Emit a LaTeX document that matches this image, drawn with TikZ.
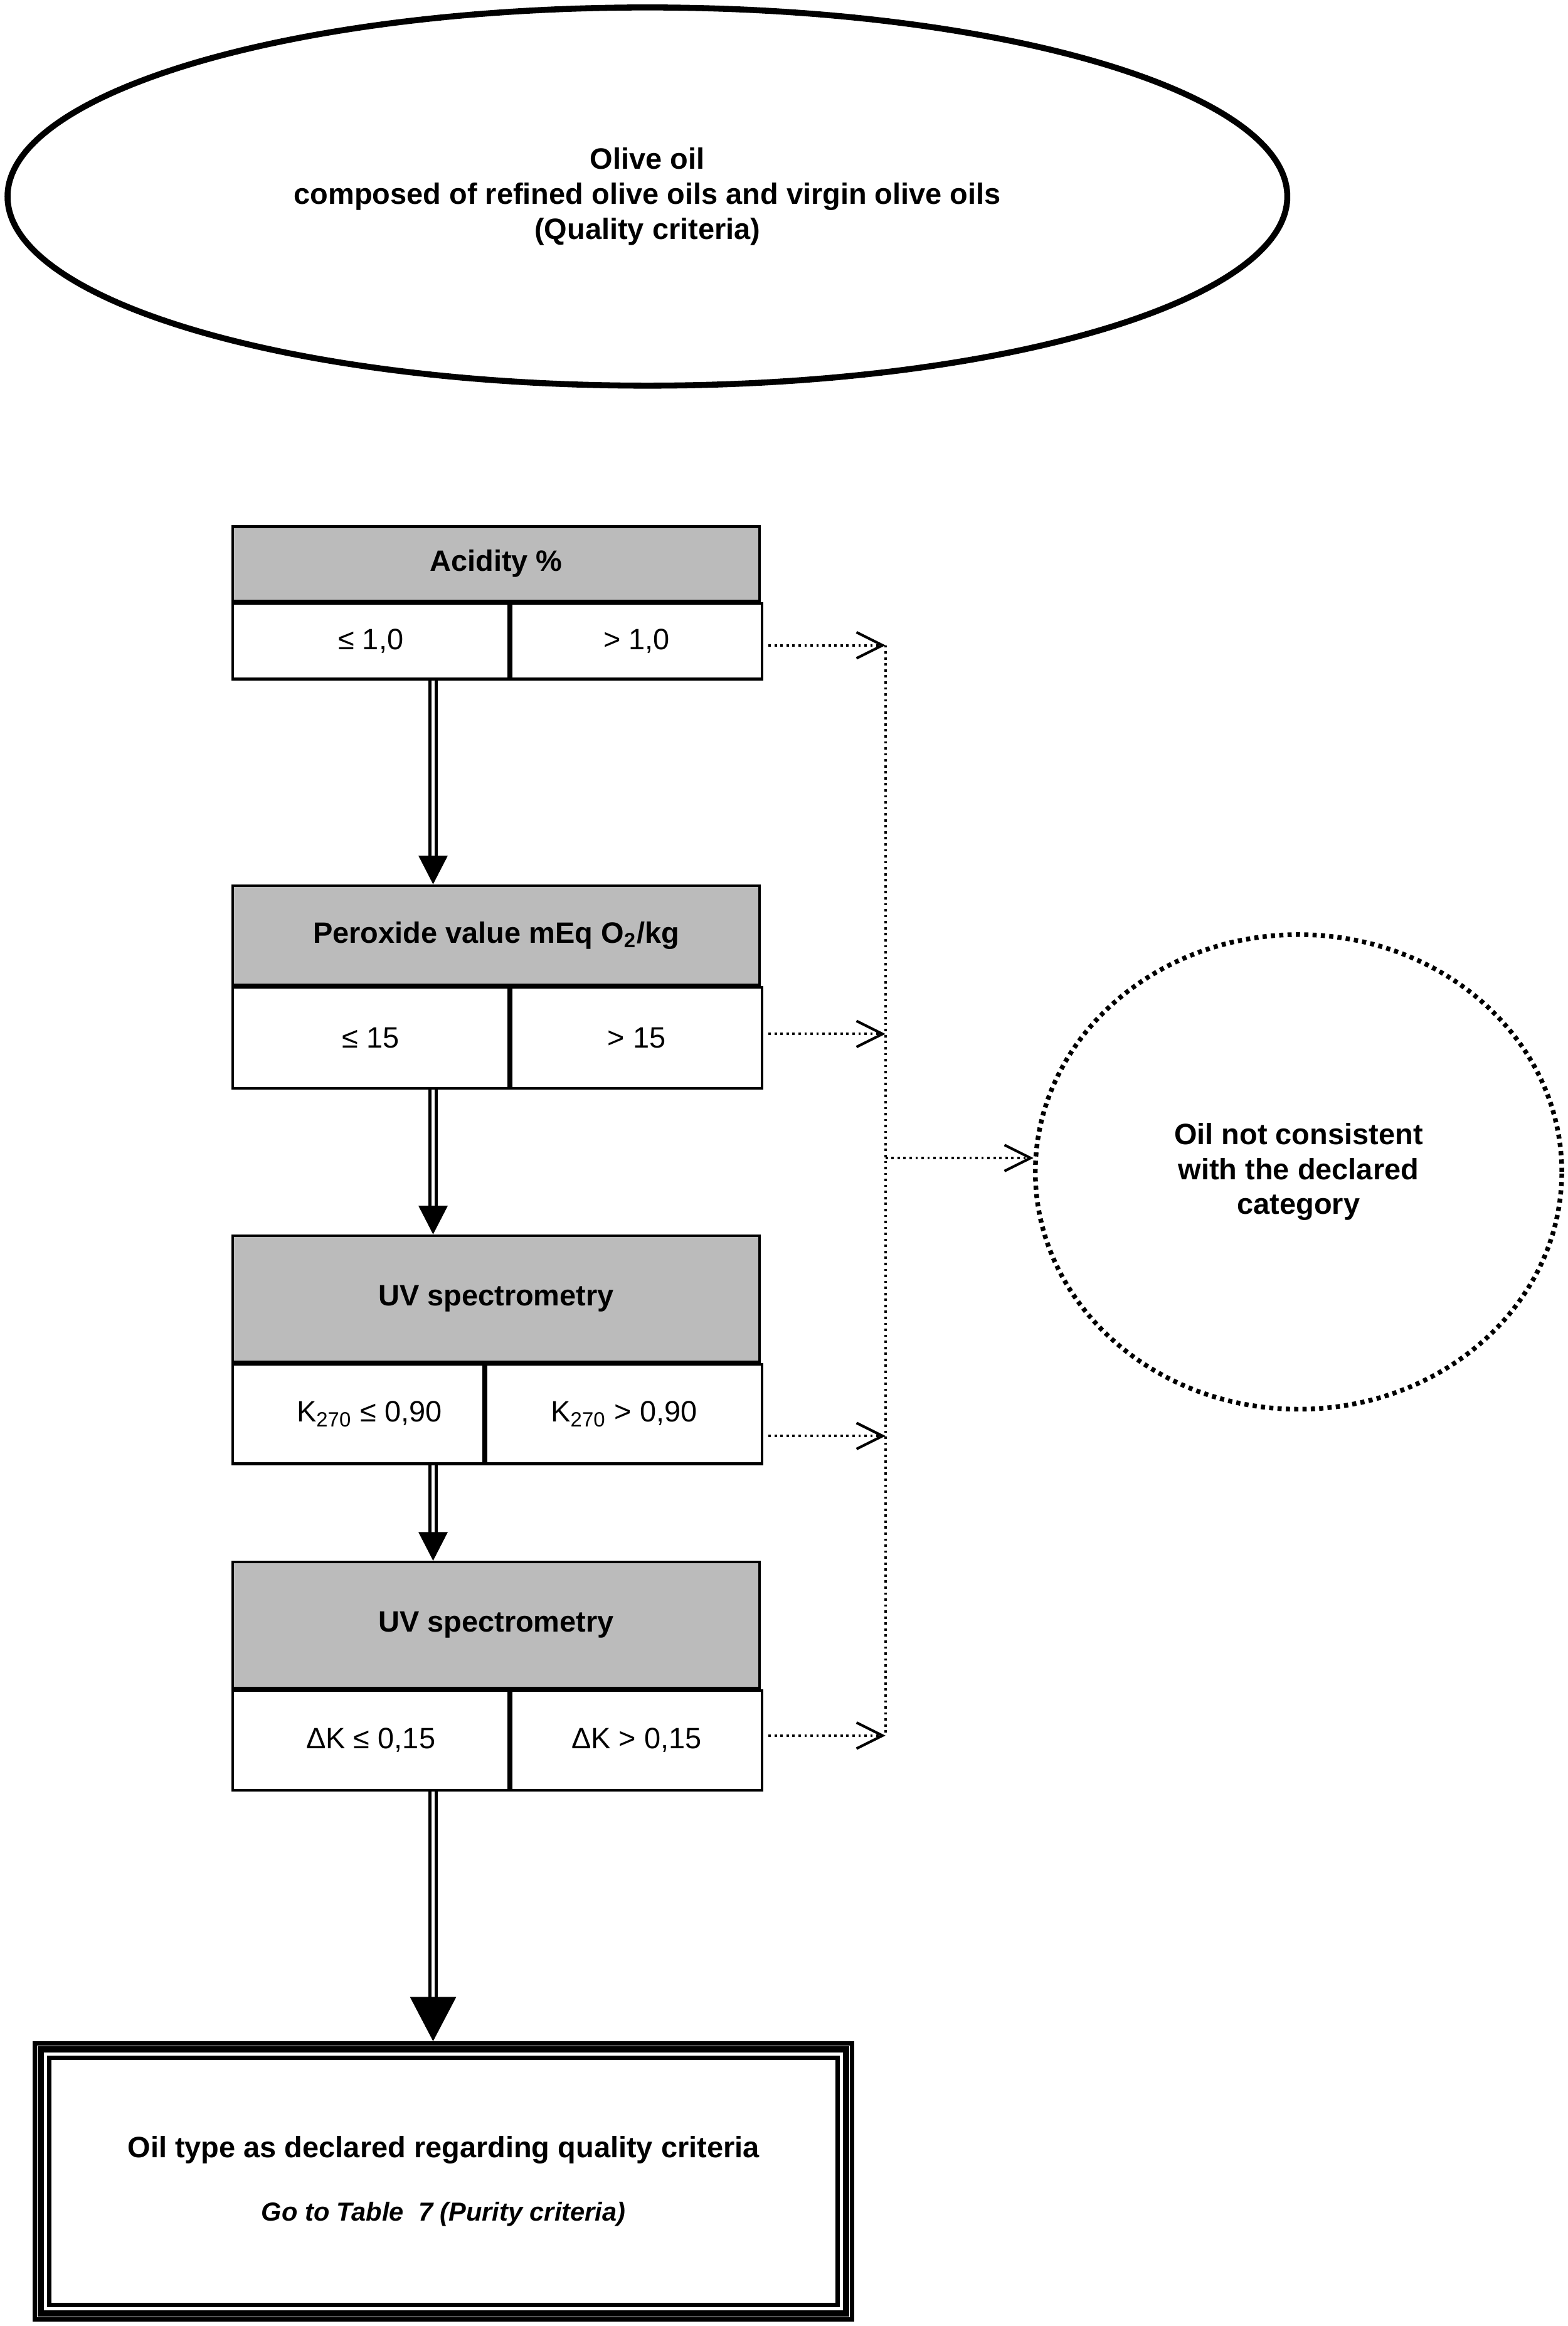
\documentclass[tikz,border=0pt]{standalone}
\usepackage{fontspec}
\setmainfont{Liberation Sans}
\usepackage{tikz}
\usetikzlibrary{arrows.meta,shapes.geometric}
\definecolor{headgray}{RGB}{187,187,187}

\begin{document}
\begin{tikzpicture}[x=0.02cm,y=0.02cm,font=\fontsize{11.3}{13.4}\selectfont,
  head/.style={rectangle,fill=headgray,draw=black,line width=1pt,minimum width=7.1cm,inner sep=2pt,align=center,font=\fontsize{11.3}{13.4}\selectfont\bfseries},
  cell/.style={rectangle,fill=white,draw=black,line width=1pt,anchor=north west,inner sep=2pt,align=center},
  pass/.style={double,double distance=1.3pt,line width=1.1pt,-{Triangle[length=11pt,width=11pt]}},
  rejectline/.style={line width=0.9pt,dash pattern=on 0.9pt off 1.4pt},
  reject/.style={rejectline,-{Straight Barb[length=10pt,width=10pt,line width=1pt]}}]
\useasboundingbox (0,0) rectangle (1057,-1568);
\node[ellipse,draw=black,line width=2.3pt,minimum width=17.26cm,minimum height=5.1cm,inner sep=0pt,align=center,font=\fontsize{11.3}{13.4}\selectfont\bfseries] (olive) at (436.5,-132.5) {Olive oil\\composed of refined olive oils and virgin olive oils\\(Quality criteria)};
% acidity
\node[head,minimum height=1cm] (acidhead) at (334.5,-380) {Acidity \%};
\node[cell,minimum width=3.72cm,minimum height=1.02cm] (acidlo) at (acidhead.south west) {≤ 1,0};
\node[cell,minimum width=3.38cm,minimum height=1.02cm] (acidhi) at (acidlo.north east) {> 1,0};
% peroxide value
\node[head,minimum height=1.34cm] (perohead) at (334.5,-630.5) {Peroxide value mEq O\textsubscript{2}/kg};
\node[cell,minimum width=3.72cm,minimum height=1.36cm] (perolo) at (perohead.south west) {≤ 15};
\node[cell,minimum width=3.38cm,minimum height=1.36cm] (perohi) at (perolo.north east) {> 15};
% K270
\node[head,minimum height=1.7cm] (kahead) at (334.5,-875.5) {UV spectrometry};
\node[cell,minimum width=3.38cm,minimum height=1.34cm] (kalo) at (kahead.south west) {\hspace{0.3cm}K\textsubscript{270} ≤ 0,90};
\node[cell,minimum width=3.72cm,minimum height=1.34cm] (kahi) at (kalo.north east) {K\textsubscript{270} > 0,90};
% delta K
\node[head,minimum height=1.7cm] (dkhead) at (334.5,-1095.5) {UV spectrometry};
\node[cell,minimum width=3.72cm,minimum height=1.34cm] (dklo) at (dkhead.south west) {ΔK ≤ 0,15};
\node[cell,minimum width=3.38cm,minimum height=1.34cm] (dkhi) at (dklo.north east) {ΔK > 0,15};
% outcomes
\node[draw=black,line width=1.7pt,minimum width=11.02cm,minimum height=3.72cm,align=center,font=\fontsize{11.3}{13.4}\selectfont\bfseries] (result) at (299,-1470.5) {Oil type as declared regarding quality criteria\\[11pt]{\fontsize{10}{12}\selectfont\itshape Go to Table\ \ 7 (Purity criteria)}};
\draw[line width=2.4pt] ([shift={(5.6,-5.6)}]result.north west) rectangle ([shift={(-5.6,5.6)}]result.south east);
\draw[line width=1.7pt] ([shift={(11.2,-11.2)}]result.north west) rectangle ([shift={(-11.2,11.2)}]result.south east);
\node[ellipse,draw=black,line width=1.8pt,dash pattern=on 1.6pt off 1.6pt,minimum width=7.1cm,minimum height=6.4cm,inner sep=0pt,align=center,font=\fontsize{11.3}{13.4}\selectfont\bfseries] (fail) at (875.5,-790) {Oil not consistent\\with the declared\\category};
% main path
\coordinate (spine) at (292,0);
\draw[pass] (acidlo.south -| spine) -- (perohead.north -| spine);
\draw[pass] (perolo.south -| spine) -- (kahead.north -| spine);
\draw[pass] (kalo.south -| spine) -- (dkhead.north -| spine);
\draw[pass,-{Triangle[length=17pt,width=17.5pt]}] (dklo.south -| spine) -- (result.north -| spine);
% rejections
\coordinate (j1) at (597,-435);
\coordinate (j2) at (597,-697);
\coordinate (j3) at (597,-968);
\coordinate (j4) at (597,-1170);
\draw[reject,shorten <=2pt] (acidhi.east |- j1) -- (j1);
\draw[reject,shorten <=2pt] (perohi.east |- j2) -- (j2);
\draw[reject,shorten <=2pt] (kahi.east |- j3) -- (j3);
\draw[reject,shorten <=2pt] (dkhi.east |- j4) -- (j4);
\draw[rejectline] (j1) -- (j4);
\draw[reject] (fail.177 -| j1) -- (fail.177);
\end{tikzpicture}
\end{document}
